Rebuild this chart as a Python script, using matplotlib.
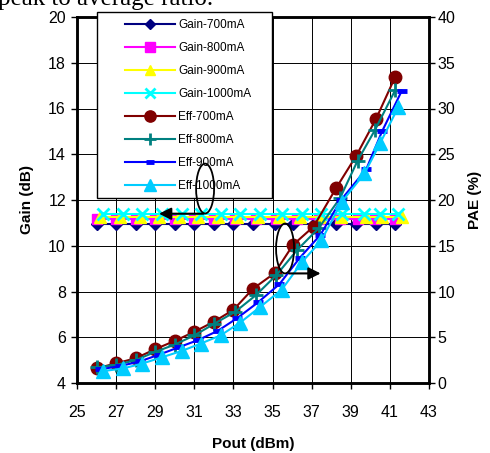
import numpy as np
import matplotlib
matplotlib.use("Agg")
import matplotlib.pyplot as plt
from matplotlib.patches import Rectangle, Ellipse, FancyArrowPatch

plt.rcParams['font.family'] = ['Liberation Sans', 'DejaVu Sans']

# ---- data ----
pout_700 = [26.0, 27.0, 28.0, 29.0, 30.0, 31.0, 32.0, 33.0, 34.0, 35.1, 36.05, 37.1, 38.25, 39.27, 40.3, 41.26]
pout_800 = [26.0, 27.0, 28.0, 29.0, 30.0, 31.0, 32.0, 33.1, 34.15, 35.2, 36.24, 37.35, 38.45, 39.35, 40.25, 41.27]
pout_900 = [26.2, 27.2, 28.2, 29.2, 30.2, 31.2, 32.2, 33.2, 34.25, 35.35, 36.4, 37.45, 38.5, 39.8, 40.6, 41.6]
pout_1000 = [26.35, 27.37, 28.3, 29.33, 30.35, 31.32, 32.34, 33.34, 34.36, 35.47, 36.5, 37.5, 38.54, 39.7, 40.5, 41.44]

gain_700 = [10.95, 10.95, 10.95, 10.95, 10.95, 10.95, 10.95, 10.95, 10.95, 10.95, 10.95, 10.95, 10.95, 10.95, 10.95, 10.95]
gain_800 = [11.15, 11.15, 11.15, 11.15, 11.15, 11.15, 11.15, 11.15, 11.15, 11.15, 11.15, 11.15, 11.15, 11.15, 11.15, 11.15]
gain_900 = [11.27, 11.27, 11.27, 11.27, 11.27, 11.27, 11.27, 11.27, 11.27, 11.27, 11.27, 11.27, 11.27, 11.27, 11.27, 11.27]
gain_1000 = [11.4, 11.4, 11.4, 11.4, 11.4, 11.4, 11.4, 11.4, 11.4, 11.4, 11.4, 11.4, 11.4, 11.4, 11.4, 11.4]

eff_700 = [1.6, 2.15, 2.7, 3.7, 4.6, 5.6, 6.7, 8.0, 10.3, 12.0, 15.1, 17.1, 21.3, 24.8, 28.9, 33.4]
eff_800 = [1.7, 1.97, 2.5, 3.4, 4.2, 5.2, 6.45, 7.8, 9.6, 11.8, 14.5, 16.9, 20.2, 24.3, 27.7, 32.0]
eff_900 = [1.5, 1.85, 2.35, 3.1, 3.9, 4.7, 5.7, 7.1, 8.8, 10.8, 13.7, 16.2, 20.0, 23.4, 27.5, 31.9]
eff_1000 = [1.3, 1.6, 2.1, 2.8, 3.5, 4.3, 5.2, 6.6, 8.3, 10.2, 13.2, 15.6, 19.8, 22.9, 26.2, 30.2]

xticks = np.arange(25, 44, 2)
gticks = np.arange(4, 21, 2)
pticks = np.arange(0, 41, 5)

fig = plt.figure(figsize=(4.9, 4.53), dpi=100)
ax1 = fig.add_axes([77/490, 1-383/453, 352/490, 366/453])
ax2 = ax1.twinx()

lw = 1.5
h = []
h += ax1.plot(pout_700, gain_700, color='#000080', marker='D', ms=6, lw=lw, label='Gain-700mA')
h += ax1.plot(pout_800, gain_800, color='#FF00FF', marker='s', ms=7.5, lw=lw, label='Gain-800mA')
h += ax1.plot(pout_900, gain_900, color='#FFFF00', marker='^', ms=8.5, lw=lw, label='Gain-900mA')
h += ax1.plot(pout_1000, gain_1000, color='#00FFFF', marker='x', ms=8, mew=2, lw=lw, label='Gain-1000mA')

h += ax2.plot(pout_700, eff_700, color='#800000', marker='o', ms=9, lw=lw, label='Eff-700mA')
h += ax2.plot(pout_800, eff_800, color='#008080', marker='+', ms=10, mew=2, lw=lw, label='Eff-800mA')
h += ax2.plot(pout_900, eff_900, color='#0000FF', marker='_', ms=7, mew=3.5, lw=lw, label='Eff-900mA')
h += ax2.plot(pout_1000, eff_1000, color='#00CCFF', marker='^', ms=9.5, lw=lw, label='Eff-1000mA')

ax1.set_xlim(25, 43)
ax1.set_ylim(4, 20)
ax2.set_ylim(0, 40)
ax1.set_xticks(xticks)
ax1.set_yticks(gticks)
ax2.set_yticks(pticks)
ax1.grid(True, color='black', lw=0.7)
ax1.set_axisbelow(True)

for ax in (ax1, ax2):
    for s in ax.spines.values():
        s.set_linewidth(1.8)
    ax.tick_params(labelsize=11.5, length=4, width=1, direction='out')
ax1.tick_params(axis='x', pad=12)
ax1.tick_params(axis='y', pad=4)
ax2.tick_params(axis='y', pad=2)

ax1.set_xlabel('Pout (dBm)', fontsize=11, fontweight='bold', labelpad=12)
ax1.set_ylabel('Gain (dB)', fontsize=11, fontweight='bold', labelpad=10)
ax2.set_ylabel('PAE (%)', fontsize=11, fontweight='bold', labelpad=9)

# legend box
fig.add_artist(Rectangle((97/490, 1-198/453), 175/490, 186/453, transform=fig.transFigure,
                         facecolor='white', edgecolor='black', lw=1, zorder=4))
fig.legend(handles=h, loc='upper left', bbox_to_anchor=(125/490, 1-19.5/453), frameon=False,
           fontsize=8.5, handlelength=4.25, handletextpad=0.25, labelspacing=0.93,
           borderpad=0, borderaxespad=0, markerscale=0.9)

# ellipses and arrows
tr = ax1.transData
for cx, cy in [(31.55, 12.5), (35.64, 9.88)]:
    fig.add_artist(Ellipse((cx, cy), 0.92, 2.18, transform=tr, fill=False,
                           edgecolor='black', lw=1.3, zorder=6))
for (x0, y0), (x1, y1) in [((31.6, 11.4), (29.05, 11.4)), ((35.7, 8.79), (37.6, 8.79))]:
    fig.add_artist(FancyArrowPatch((x0, y0), (x1, y1), transform=tr, arrowstyle='-|>',
                                   mutation_scale=18, lw=1.5, color='black', zorder=6))

fig.text(-2/490, 1-5/453, 'peak to average ratio.', family='Liberation Serif', fontsize=18,
         va='baseline', ha='left')

fig.savefig('out.png', dpi=100)
